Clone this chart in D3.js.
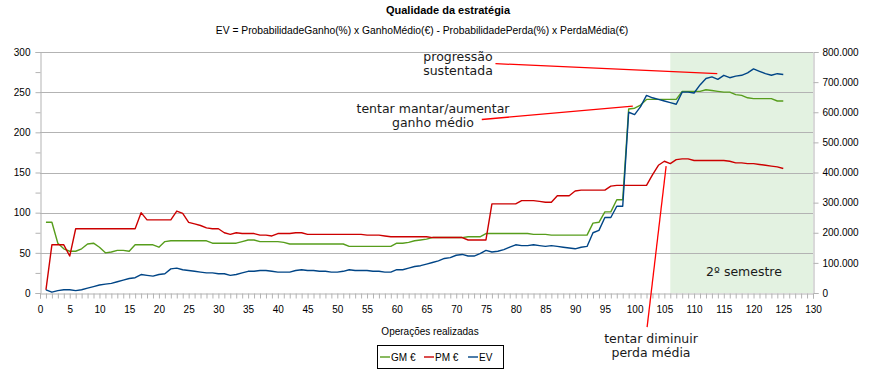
<!DOCTYPE html>
<html><head><meta charset="utf-8">
<script src="https://cdn.jsdelivr.net/npm/d3@7"></script>
<style>
body{margin:0;background:#fff;}
svg{display:block;font-family:"Liberation Sans",Arial,sans-serif;}
</style></head><body>
<svg id="c" width="885" height="377"></svg>
<script>
// ---- data ----
const operations = d3.range(1, 126);
const gmValues = [
 88,88,62,55,52,52,55,61,62,57,
 50,51,53,53,52,60,60,60,60,57,
 64,65,65,65,65,65,65,65,62,62,
 62,62,62,64,66,66,64,64,64,64,
 63,61,61,61,61,61,61,61,61,61,
 61,58,58,58,58,58,58,58,58,62,
 62,63,65,66,67,69,69,69,69,69,
 69,70,70,70,74,74,74,74,74,74,
 74,74,73,73,73,72,72,72,72,72,
 72,72,87,88,101,101,116,116,229,230,
 234,241,241,241,241,241,241,251,251,251,
 251,253,252,251,250,250,247,246,243,242,
 242,242,242,239,239];
const pmValues = [
 4,60,60,60,46,80,80,80,80,80,
 80,80,80,80,80,80,100,91,91,91,
 91,91,102,99,88,86,84,81,80,80,
 75,73,75,74,74,74,72,72,71,74,
 74,74,75,75,73,73,73,73,73,73,
 73,73,73,73,72,72,72,71,70,70,
 70,70,70,70,70,69,69,69,69,69,
 69,66,66,66,66,111,111,111,111,111,
 115,115,115,114,113,113,121,121,121,127,
 128,128,128,128,128,133,134,134,134,134,
 134,134,147,159,164,161,166,167,167,165,
 165,165,165,165,165,164,162,162,161,161,
 160,159,158,157,155];
const evValues = [
 4,1,3,4,4,3,4,6,8,10,
 11,12,14,16,18,19,23,22,21,23,
 24,30,31,29,28,27,26,25,25,24,
 24,22,23,25,27,27,28,28,27,26,
 26,26,28,29,28,28,27,27,26,26,
 27,29,28,28,28,27,27,26,26,29,
 29,31,33,34,36,38,40,43,44,47,
 48,46,46,49,53,51,52,54,57,60,
 59,59,60,59,58,59,58,57,56,55,
 57,58,75,78,94,94,108,108,225,222,
 232,246,243,241,239,237,235,250,250,249,
 259,267,269,266,271,268,270,271,274,279,
 276,273,271,273,272];
const seriesNames = ["GM €", "PM €", "EV"];
const leftTicks = [0,50,100,150,200,250,300];
const leftMinorTicks = d3.range(0, 301, 25);
const rightTicks = [0,100000,200000,300000,400000,500000,600000,700000,800000];
const xLabelTicks = d3.range(0, 131, 5);
const xMinorTicks = d3.range(0, 131, 1);
const semesterStart = 106, semesterEnd = 130;
const titleText = "Qualidade da estratégia";
const subtitleText = "EV = ProbabilidadeGanho(%) x GanhoMédio(€) - ProbabilidadePerda(%) x PerdaMédia(€)";
const xTitle = "Operações realizadas";
const semesterLabel = "2º semestre";
// annotations: [text lines, anchor x/y of text, line from (op,value) -> (op,value)]
const annotations = [
  {lines:["progressão","sustentada"], tx:458, ty:61, from:[76.6,285.5], to:[113.9,273]},
  {lines:["tentar mantar/aumentar","ganho médio"], tx:433, ty:113, from:[74.3,216], to:[99.7,232.5]},
  {lines:["tentar diminuir","perda média"], tx:651, ty:343, from:[102.1,-42.5], to:[105.3,158]}
];

// ---- chart ----
const svg = d3.select("#c");
const x = d3.scaleLinear().domain([0,130]).range([40,813]);
const yL = d3.scaleLinear().domain([0,300]).range([293,52]);
const yR = d3.scaleLinear().domain([0,800000]).range([293,52]);
const grid = "#b3b3b3";
const colors = {"GM €":"#579d1c","PM €":"#cc0000","EV":"#004586"};
const loc = d3.formatLocale({decimal:",", thousands:".", grouping:[3], currency:["","€"]});
const fmtR = loc.format(",d");

// shading
svg.append("rect")
  .attr("x", x(semesterStart)).attr("y", yL(300))
  .attr("width", x(semesterEnd)-x(semesterStart)).attr("height", yL(0)-yL(300))
  .attr("fill", "#e3f2e1");

// gridlines
svg.append("g").selectAll("line").data(leftTicks.filter(d=>d>0)).join("line")
  .attr("x1", x(0)).attr("x2", x(130))
  .attr("y1", d=>Math.round(yL(d))+0.5).attr("y2", d=>Math.round(yL(d))+0.5)
  .attr("stroke", grid).attr("stroke-width",1);

// left axis
const axL = svg.append("g").attr("transform","translate(40.5,0)")
  .call(d3.axisLeft(yL).tickValues(leftMinorTicks).tickSize(5).tickPadding(5)
    .tickFormat(d => leftTicks.includes(d) ? d : ""));
// right axis
const axR = svg.append("g").attr("transform","translate(813.5,0)")
  .call(d3.axisRight(yR).tickValues(rightTicks).tickSize(5).tickPadding(4).tickFormat(fmtR));
// bottom axis (minor ticks + labels)
const axB = svg.append("g").attr("transform","translate(0,293.5)")
  .call(d3.axisBottom(x).tickValues(xMinorTicks).tickSize(5).tickPadding(7)
    .tickFormat(d => d % 5 === 0 ? d : ""));
[axL, axR, axB].forEach(a => {
  a.select(".domain").attr("stroke", grid);
  a.selectAll(".tick line").attr("stroke", grid);
  a.selectAll(".tick text").attr("fill","#000").attr("font-size",10)
    .attr("font-family",'"Liberation Sans",Arial,sans-serif');
});

// series
const series = [
  {name:"GM €", values:gmValues},
  {name:"PM €", values:pmValues},
  {name:"EV", values:evValues}
];
const line = d3.line().x((d,i)=>x(operations[i])).y(d=>yL(d));
svg.append("g").selectAll("path").data(series).join("path")
  .attr("d", d=>line(d.values))
  .attr("fill","none").attr("stroke", d=>colors[d.name])
  .attr("stroke-width",1.4).attr("stroke-linejoin","round");

// titles
svg.append("text").attr("x",448).attr("y",13.5).attr("text-anchor","middle")
  .attr("font-size",11).attr("font-weight","bold").text(titleText);
svg.append("text").attr("x",422).attr("y",34).attr("text-anchor","middle")
  .attr("font-size",10.3).text(subtitleText);
svg.append("text").attr("x",430).attr("y",335).attr("text-anchor","middle")
  .attr("font-size",10).text(xTitle);

// semester label
svg.append("text").attr("x",744).attr("y",276).attr("text-anchor","middle")
  .attr("font-family",'"DejaVu Sans",sans-serif').attr("font-size",12.5)
  .attr("fill","#1a1a1a").text(semesterLabel);

// annotations
annotations.forEach(a => {
  svg.append("line")
    .attr("x1", x(a.from[0])).attr("y1", yL(a.from[1]))
    .attr("x2", x(a.to[0])).attr("y2", yL(a.to[1]))
    .attr("stroke","#ff0000").attr("stroke-width",1.3);
  const t = svg.append("text").attr("text-anchor","middle")
    .attr("font-family",'"DejaVu Sans",sans-serif').attr("font-size",12.5).attr("fill","#1a1a1a");
  a.lines.forEach((l,i) => t.append("tspan").attr("x",a.tx).attr("y",a.ty+i*14).text(l));
});

// legend
const lg = svg.append("g");
lg.append("rect").attr("x",377.5).attr("y",345.5).attr("width",126).attr("height",23)
  .attr("fill","#fff").attr("stroke","#000").attr("stroke-width",1);
const legX = [380, 424, 468];
series.forEach((s,i) => {
  lg.append("line").attr("x1",legX[i]).attr("x2",legX[i]+10).attr("y1",357).attr("y2",357)
    .attr("stroke",colors[s.name]).attr("stroke-width",1.4);
  lg.append("text").attr("x",legX[i]+11).attr("y",361).attr("font-size",10).text(s.name);
});
</script>
</body></html>
